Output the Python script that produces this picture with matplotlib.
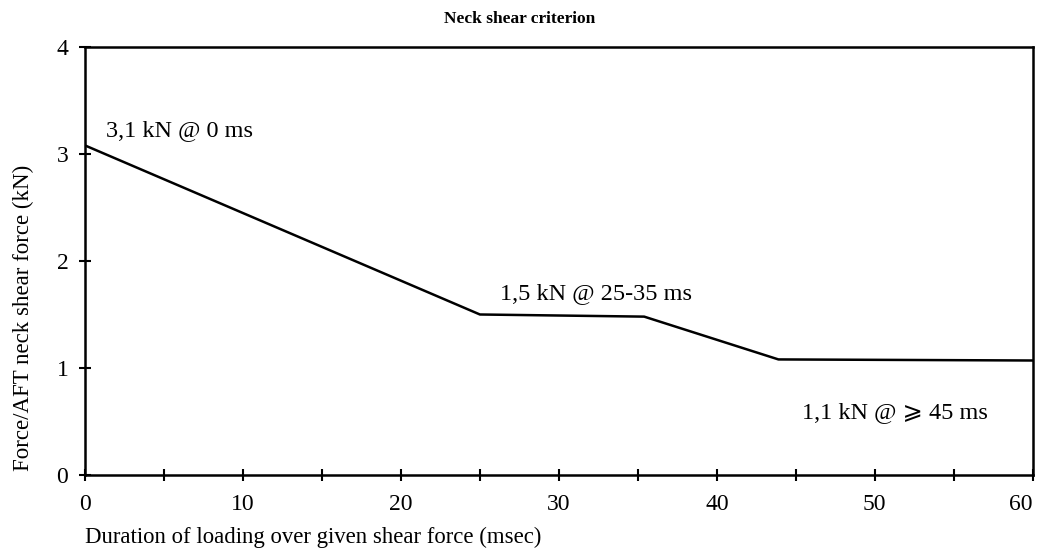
import matplotlib
matplotlib.use("Agg")
import matplotlib.pyplot as plt
from matplotlib.ticker import MultipleLocator

plt.rcParams['font.family'] = ['Liberation Serif', 'DejaVu Serif', 'DejaVu Sans']

duration_ms = [0, 25, 35.4, 43.9, 60]
shear_kN = [3.08, 1.50, 1.48, 1.08, 1.07]
x_ticks = [0, 10, 20, 30, 40, 50, 60]
y_ticks = [0, 1, 2, 3, 4]
labels = ["3,1 kN @ 0 ms", "1,5 kN @ 25-35 ms", "1,1 kN @ \u2a7e 45 ms"]
label_pos = [(1.3, 3.22), (26.3, 1.70), (45.4, 0.58)]

fig = plt.figure(figsize=(10.39, 5.56), dpi=100)
ax = fig.add_axes([0.0818, 0.1457, 0.9122, 0.7698])
ax.plot(duration_ms, shear_kN, color='black', lw=1.8)
ax.set_xlim(0, 60)
ax.set_ylim(0, 4)
ax.set_xticks(x_ticks)
ax.xaxis.set_minor_locator(MultipleLocator(5))
ax.set_yticks(y_ticks)
ax.tick_params(which='both', direction='inout', length=8, width=1.5, labelsize=17, pad=10)
ax.tick_params(axis='y', pad=8)
xt = ax.get_xticklabels()
xt[-1].set_horizontalalignment('right')
for s in ax.spines.values():
    s.set_linewidth(1.8)
for t, (x, y) in zip(labels, label_pos):
    ax.text(x, y, t, fontsize=17.5, ha='left', va='center')
ax.set_ylabel("Force/AFT neck shear force (kN)", fontsize=16.5)
ax.yaxis.set_label_coords(-0.054, 0.367)
fig.text(0.0818, 0.015, "Duration of loading over given shear force (msec)", fontsize=16.4, ha='left', va='bottom')
fig.text(0.5, 0.965, "Neck shear criterion", fontsize=12.5, fontweight='bold', ha='center', va='center')
fig.savefig("out.png", dpi=100)
